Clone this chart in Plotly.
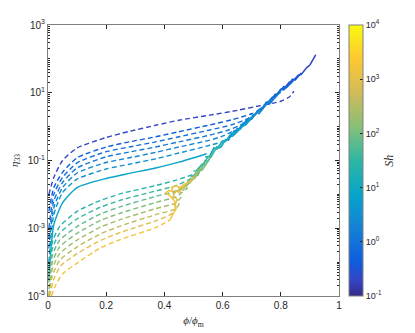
import math
import plotly.graph_objects as go
from plotly.colors import sample_colorscale

# parula-like colour scale
parula = [[0.0, '#352a87'], [0.06, '#3446c8'], [0.125, '#0f5cdd'], [0.25, '#1481d6'],
          [0.375, '#06a4ca'], [0.5, '#2eb7a4'], [0.625, '#87bf77'], [0.75, '#d1bb59'],
          [0.875, '#fec832'], [1.0, '#f9fb0e']]

sh_upper = [0.2, 0.45, 0.9, 1.4, 2.2, 3.5, 8]
sh_lower = [25, 40, 70, 120, 220, 400, 900, 1600]

# dashed model curves: x = phi/phi_m, y = log10(eta33)
xu = [0.003, 0.02, 0.05, 0.1, 0.2, 0.28, 0.37, 0.45, 0.556]
up_x = [
    xu + [0.65, 0.73, 0.8, 0.83, 0.845],
    xu + [0.63, 0.7, 0.74],
    xu + [0.63, 0.69, 0.72],
    xu + [0.62, 0.67, 0.69],
    xu + [0.6, 0.64],
    xu + [0.6],
    xu[:-1] + [0.545],
]
up_y = [
    [-2.0, -1.5, -1.0, -0.63, -0.32, -0.14, 0.04, 0.19, 0.34, 0.48, 0.62, 0.75, 0.88, 1.05],
    [-2.5, -1.8, -1.35, -0.92, -0.6, -0.45, -0.3, -0.15, 0.05, 0.2, 0.38, 0.55],
    [-3.0, -2.0, -1.5, -1.07, -0.74, -0.6, -0.45, -0.3, -0.1, 0.05, 0.25, 0.42],
    [-3.3, -2.2, -1.65, -1.22, -0.89, -0.75, -0.6, -0.45, -0.25, -0.1, 0.08, 0.22],
    [-3.6, -2.4, -1.8, -1.37, -1.06, -0.92, -0.76, -0.6, -0.4, -0.28, -0.12],
    [-4.0, -2.6, -1.95, -1.55, -1.25, -1.11, -0.95, -0.78, -0.55, -0.45],
    [-4.5, -2.9, -2.25, -1.8, -1.53, -1.38, -1.22, -1.05, -0.8],
]

xl = [0.003, 0.015, 0.04, 0.1, 0.18, 0.25, 0.37, 0.44]
low_x = [
    xl + [0.52],
    xl + [0.5],
    xl + [0.49],
    xl + [0.48],
    xl + [0.465],
    xl + [0.455],
    [0.006, 0.02, 0.045, 0.1, 0.18, 0.25, 0.37, 0.42, 0.44],
    [0.012, 0.025, 0.05, 0.1, 0.18, 0.25, 0.37, 0.42],
]
low_y = [
    [-4.2, -3.4, -2.95, -2.5, -2.18, -1.98, -1.74, -1.58, -1.35],
    [-4.4, -3.6, -3.15, -2.72, -2.38, -2.17, -1.9, -1.74, -1.5],
    [-4.6, -3.8, -3.35, -2.95, -2.58, -2.36, -2.06, -1.9, -1.65],
    [-4.8, -4.0, -3.55, -3.15, -2.77, -2.55, -2.24, -2.07, -1.8],
    [-5.0, -4.2, -3.75, -3.35, -2.97, -2.74, -2.42, -2.25, -2.0],
    [-5.0, -4.4, -3.95, -3.55, -3.17, -2.93, -2.6, -2.42, -2.2],
    [-5.0, -4.5, -4.1, -3.75, -3.36, -3.12, -2.78, -2.6, -2.45],
    [-5.0, -4.7, -4.35, -4.03, -3.58, -3.33, -2.98, -2.75],
]

# noisy simulation traces along the common branch
sim_up_x = [
    [0.77, 0.785, 0.8, 0.81, 0.83, 0.84, 0.86, 0.87, 0.89, 0.9, 0.92, 0.915],
    [0.72, 0.735, 0.75, 0.765, 0.78, 0.79, 0.81, 0.82, 0.84, 0.85, 0.87],
    [0.7, 0.71, 0.725, 0.74, 0.75, 0.77, 0.78, 0.8, 0.81, 0.84],
    [0.66, 0.675, 0.69, 0.7, 0.72, 0.73, 0.75, 0.76, 0.79, 0.8],
    [0.62, 0.635, 0.65, 0.66, 0.68, 0.69, 0.72, 0.725, 0.75, 0.77],
    [0.58, 0.595, 0.61, 0.62, 0.64, 0.65, 0.67, 0.68, 0.71, 0.73],
    [0.54, 0.555, 0.57, 0.58, 0.6, 0.61, 0.63, 0.64, 0.67, 0.68, 0.7],
]
sim_up_y = [
    [0.85, 0.93, 1.1, 1.12, 1.32, 1.33, 1.52, 1.54, 1.75, 1.82, 2.12, 2.05],
    [0.48, 0.5, 0.72, 0.74, 0.95, 0.97, 1.18, 1.16, 1.4, 1.38, 1.58],
    [0.32, 0.34, 0.5, 0.58, 0.66, 0.86, 0.88, 1.1, 1.08, 1.32],
    [0.0, 0.04, 0.25, 0.22, 0.47, 0.46, 0.7, 0.66, 0.95, 1.02],
    [-0.3, -0.28, -0.05, -0.08, 0.18, 0.16, 0.42, 0.38, 0.65, 0.8],
    [-0.65, -0.6, -0.38, -0.4, -0.12, -0.14, 0.1, 0.06, 0.36, 0.5],
    [-0.9, -0.88, -0.62, -0.66, -0.42, -0.44, -0.2, -0.24, 0.02, 0.06, 0.3],
]
sim_low_x = [
    [0.5, 0.51, 0.53, 0.535, 0.55, 0.56, 0.58, 0.59, 0.61],
    [0.49, 0.5, 0.52, 0.525, 0.54, 0.55, 0.57, 0.58],
    [0.48, 0.49, 0.51, 0.515, 0.53, 0.54, 0.56],
    [0.47, 0.48, 0.5, 0.505, 0.52, 0.53, 0.55],
    [0.45, 0.47, 0.475, 0.49, 0.5, 0.51, 0.53],
    [0.43, 0.44, 0.46, 0.465, 0.48, 0.49, 0.51],
    [0.44, 0.435, 0.445, 0.43, 0.44, 0.455, 0.45, 0.465, 0.475, 0.49, 0.5],
    [0.42, 0.43, 0.44, 0.435, 0.42, 0.405, 0.415, 0.43, 0.425, 0.44, 0.455, 0.47],
]
sim_low_y = [
    [-1.32, -1.3, -1.1, -1.12, -0.88, -0.9, -0.6, -0.62, -0.4],
    [-1.48, -1.45, -1.25, -1.27, -1.0, -1.02, -0.72, -0.65],
    [-1.62, -1.6, -1.42, -1.44, -1.12, -1.15, -0.88],
    [-1.72, -1.7, -1.5, -1.52, -1.3, -1.28, -1.02],
    [-1.85, -1.75, -1.77, -1.58, -1.56, -1.35, -1.2],
    [-2.0, -1.9, -1.85, -1.87, -1.62, -1.64, -1.4],
    [-2.45, -2.3, -2.15, -2.05, -1.9, -1.95, -1.8, -1.78, -1.68, -1.6, -1.48],
    [-2.75, -2.55, -2.4, -2.2, -2.05, -1.95, -1.88, -1.92, -1.8, -1.75, -1.8, -1.68],
]

exp_ticks = [-1, 0, 1, 2, 3, 4]


def sh_color(sh):
    return sample_colorscale(parula, [(math.log10(sh) + 1) / 5])[0]


fig = go.Figure()

for i, sh in enumerate(sh_upper + sh_lower):
    xs = (up_x + low_x)[i]
    ys = (up_y + low_y)[i]
    solid = (i == len(sh_upper) - 1)
    fig.add_trace(go.Scatter(
        x=xs, y=[10 ** v for v in ys], mode='lines',
        line=dict(color=sh_color(sh), width=1.4, shape='spline', smoothing=0.6,
                  dash='solid' if solid else '5px,3px'),
        showlegend=False, hoverinfo='skip'))

for i, sh in enumerate(sh_upper + sh_lower):
    xs = (sim_up_x + sim_low_x)[i]
    ys = (sim_up_y + sim_low_y)[i]
    fig.add_trace(go.Scatter(
        x=xs, y=[10 ** v for v in ys], mode='lines',
        line=dict(color=sh_color(sh), width=1.5),
        showlegend=False, hoverinfo='skip'))

# colour bar holder (point lies outside the visible range)
fig.add_trace(go.Scatter(
    x=[0.5], y=[1e-9], mode='markers', showlegend=False, hoverinfo='skip',
    marker=dict(color=[0], cmin=-1, cmax=4, colorscale=parula, showscale=True,
                colorbar=dict(thickness=14, len=1, lenmode='fraction', y=0.5, yanchor='middle',
                              x=1.034, xanchor='left', xpad=0, ypad=0,
                              outlinecolor='#808080', outlinewidth=1,
                              tickvals=exp_ticks,
                              ticktext=['10<sup>%d</sup>' % e for e in exp_ticks],
                              ticks='inside', ticklen=3, tickcolor='#262626',
                              tickfont=dict(size=9, color='#262626')))))

minor_vals = [m * 10 ** k for k in range(-5, 3) for m in range(2, 10)]
major_vals = [10 ** k for k in range(-5, 4)]

# page body has an 8px margin, so the figure is made 8px smaller each way
fig.update_layout(
    width=407, height=325,
    margin=dict(l=40, r=76, t=17, b=37, autoexpand=False),
    paper_bgcolor='white', plot_bgcolor='white',
    font=dict(family='Liberation Sans, Arial', size=10, color='#262626'),
    xaxis=dict(range=[0, 1], tickvals=[0, 0.2, 0.4, 0.6, 0.8, 1],
               ticktext=['0', '0.2', '0.4', '0.6', '0.8', '1'],
               ticks='inside', ticklen=4, tickcolor='#262626', automargin=False,
               showline=True, linecolor='#808080', mirror='ticks', showgrid=False, zeroline=False,
               title=dict(text='<i>ϕ</i>/<i>ϕ</i><sub>m</sub>', standoff=6,
                          font=dict(family='Liberation Serif, serif', size=11))),
    yaxis=dict(type='log', range=[-5, 3],
               tickvals=[1e-5, 1e-3, 1e-1, 1e1, 1e3],
               ticktext=['10<sup>-5</sup>', '10<sup>-3</sup>', '10<sup>-1</sup>',
                         '10<sup>1</sup>', '10<sup>3</sup>'],
               ticks='inside', ticklen=4, tickcolor='#262626', automargin=False,
               minor=dict(tickvals=minor_vals + major_vals, ticks='inside', ticklen=2,
                          tickcolor='#262626'),
               showline=True, linecolor='#808080', mirror='ticks', showgrid=False, zeroline=False,
               title=dict(text='<i>η</i><sub>33</sub>', standoff=8,
                          font=dict(family='Liberation Serif, serif', size=11))),
    annotations=[dict(text='<i>Sh</i>', x=1.2, y=0.5, xref='paper', yref='paper',
                      showarrow=False, textangle=-90,
                      font=dict(family='Liberation Serif, serif', size=12, color='#262626'))],
)

fig.write_html("out.html")
